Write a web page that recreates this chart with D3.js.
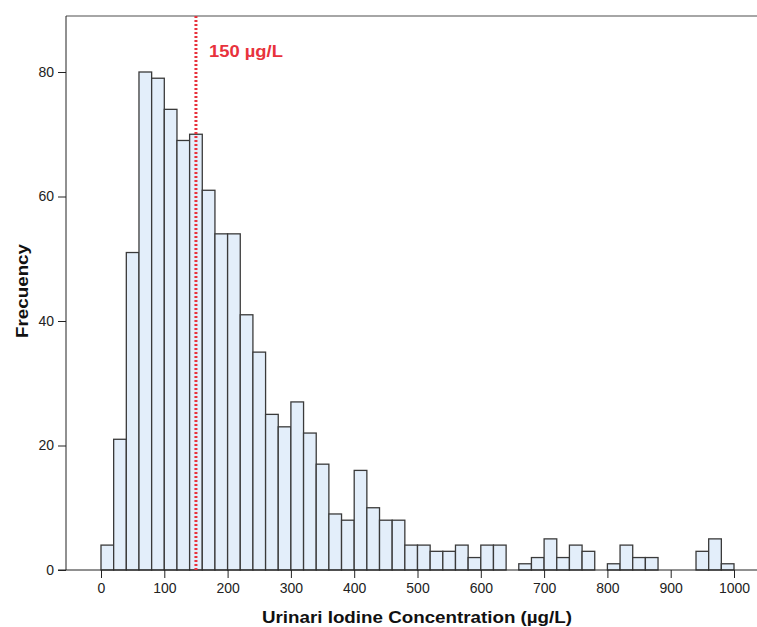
<!DOCTYPE html>
<html>
<head>
<meta charset="utf-8">
<script src="https://cdn.jsdelivr.net/npm/d3@7"></script>
<style>
  body { margin: 0; background: #fff; }
  text { font-family: Arial, "Liberation Sans", sans-serif; }
</style>
</head>
<body>
<div id="chart"></div>
<script>
// Data: counts per 20 µg/L bin, starting at 0
const binWidth = 20
const counts = [
  4, 21, 51, 80, 79, 74, 69, 70, 61, 54,
  54, 41, 35, 25, 23, 27, 22, 17, 9, 8,
  16, 10, 8, 8, 4, 4, 3, 3, 4, 2,
  4, 4, 0, 1, 2, 5, 2, 4, 3, 0,
  1, 4, 2, 2, 0, 0, 0, 3, 5, 1
]
const xTicks = [0, 100, 200, 300, 400, 500, 600, 700, 800, 900, 1000]
const yTicks = [0, 20, 40, 60, 80]
const refValue = 150
const refLabel = '150 µg/L'
const xTitle = 'Urinari Iodine Concentration (µg/L)'
const yTitle = 'Frecuency'

// Bins built from the counts (empty bins are not drawn)
const bins = counts
  .map((count, i) => ({ x0: i * binWidth, x1: (i + 1) * binWidth, count }))
  .filter(d => d.count > 0)

// Layout
const width = 757
const height = 627
const frameLeft = 66
const frameTop = 16
const frameBottom = 570

const svg = d3.select('#chart').append('svg')
  .attr('width', width)
  .attr('height', height)

// Scales
const x = d3.scaleLinear().domain([0, 1000]).range([101, 734])
const y = d3.scaleLinear().domain([0, 80]).range([frameBottom, 72])

// Bars
svg.append('g')
  .selectAll('rect')
  .data(bins)
  .join('rect')
  .attr('x', d => x(d.x0))
  .attr('y', d => y(d.count))
  .attr('width', d => x(d.x1) - x(d.x0))
  .attr('height', d => y(0) - y(d.count))
  .attr('fill', '#e3eefa')
  .attr('stroke', '#3a3a3a')
  .attr('stroke-width', 1.3)

// Frame top
svg.append('line')
  .attr('x1', frameLeft).attr('x2', width)
  .attr('y1', frameTop).attr('y2', frameTop)
  .attr('stroke', '#888')
  .attr('stroke-width', 1.5)

// Y axis
const yAxis = svg.append('g')
  .attr('transform', `translate(${frameLeft},0)`)
  .call(d3.axisLeft(y).tickValues(yTicks).tickSize(8).tickPadding(4))
yAxis.select('.domain').attr('d', `M0,${frameTop}V${frameBottom}`).attr('stroke', '#222')
yAxis.selectAll('.tick line').attr('stroke', '#222')
yAxis.selectAll('text').style('font-size', '14px').attr('fill', '#222')

// X axis
const xAxis = svg.append('g')
  .attr('transform', `translate(0,${frameBottom})`)
  .call(d3.axisBottom(x).tickValues(xTicks).tickFormat(d3.format('d')).tickSize(8).tickPadding(5))
xAxis.select('.domain').attr('d', `M${frameLeft - 8},0H${width}`).attr('stroke', '#222')
xAxis.selectAll('.tick line').attr('stroke', '#222')
xAxis.selectAll('text').style('font-size', '14px').attr('fill', '#222')

// Reference line
svg.append('line')
  .attr('x1', x(refValue)).attr('x2', x(refValue))
  .attr('y1', frameTop).attr('y2', frameBottom)
  .attr('stroke', '#e8323c')
  .attr('stroke-width', 3)
  .attr('stroke-dasharray', '2,2')

svg.append('text')
  .attr('x', x(refValue) + 13)
  .attr('y', 57)
  .attr('fill', '#e8323c')
  .attr('textLength', 74)
  .attr('lengthAdjust', 'spacingAndGlyphs')
  .style('font-size', '16px')
  .style('font-weight', 'bold')
  .text(refLabel)

// Axis titles
svg.append('text')
  .attr('x', 417)
  .attr('y', 623)
  .attr('text-anchor', 'middle')
  .attr('textLength', 310)
  .attr('lengthAdjust', 'spacingAndGlyphs')
  .style('font-size', '16px')
  .style('font-weight', 'bold')
  .attr('fill', '#111')
  .text(xTitle)

svg.append('text')
  .attr('transform', 'translate(28,291) rotate(-90)')
  .attr('text-anchor', 'middle')
  .attr('textLength', 94)
  .attr('lengthAdjust', 'spacingAndGlyphs')
  .style('font-size', '16px')
  .style('font-weight', 'bold')
  .attr('fill', '#111')
  .text(yTitle)
</script>
</body>
</html>
